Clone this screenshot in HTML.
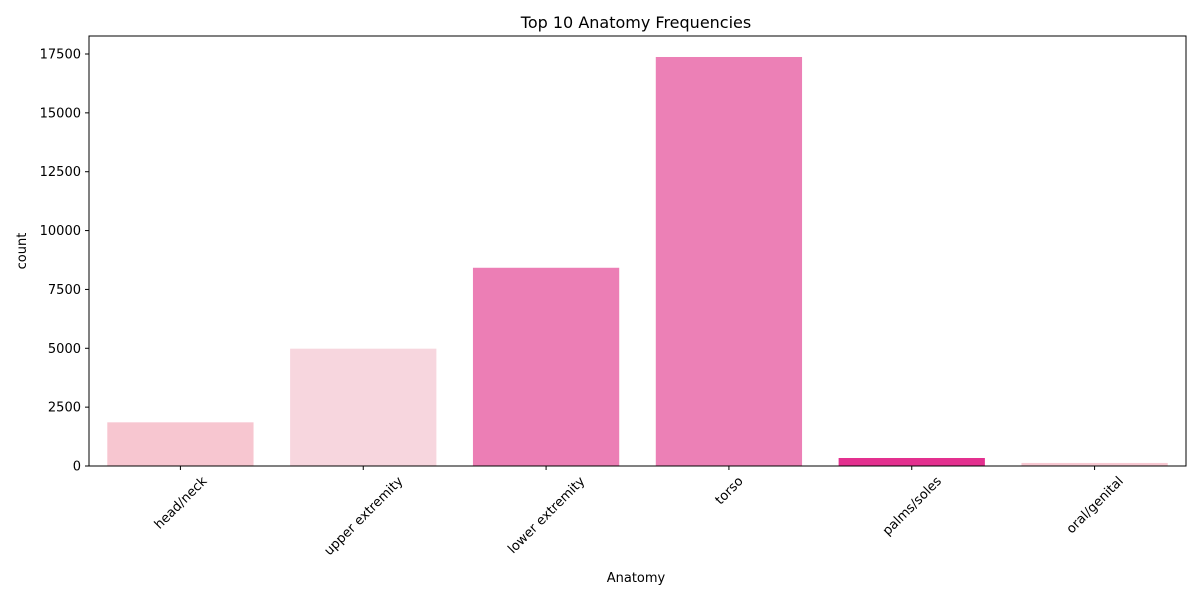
<!DOCTYPE html>
<html><head><meta charset="utf-8"><style>
body{margin:0;background:#fff;font-family:"Liberation Sans","DejaVu Sans",sans-serif;}
svg text{font-family:"DejaVu Sans","Liberation Sans",sans-serif;fill:#000;}
</style></head><body>
<svg id="chart" width="1200" height="600" xmlns="http://www.w3.org/2000/svg">
<text x="636" y="28" font-size="16" text-anchor="middle">Top 10 Anatomy Frequencies</text>
<g id="bars"></g><g id="yaxis"></g><g id="xaxis"></g>
<rect x="89" y="36" width="1097" height="430" fill="none" stroke="#000" stroke-width="1"/>
<text x="636" y="582" font-size="13" text-anchor="middle">Anatomy</text>
<text transform="translate(26,251) rotate(-90)" font-size="13" text-anchor="middle">count</text>
</svg>
<script>
const categories=["head/neck","upper extremity","lower extremity","torso","palms/soles","oral/genital"];
const counts=[1855,4983,8420,17373,340,130];
const barColors=["#f7c6d0","#f7d6de","#ec7eb5","#ec80b6","#e3308f","#f8c8d2"];
const yTicks=[0,2500,5000,7500,10000,12500,15000,17500];
const NS="http://www.w3.org/2000/svg";
const L=89,R=1186,B=466,T=54;
const y=v=>B-(v/17500)*(B-T);
const band=(R-L)/categories.length;
const xc=i=>L+band*(i+0.5);
const bars=document.getElementById('bars'),ya=document.getElementById('yaxis'),xa=document.getElementById('xaxis');
function mk(tag,attrs,p){const e=document.createElementNS(NS,tag);for(const k in attrs)e.setAttribute(k,attrs[k]);p.appendChild(e);return e;}
categories.forEach((c,i)=>{
  const w=band*0.8;
  const r=mk('rect',{x:xc(i)-w/2,y:y(counts[i]),width:w,height:B-y(counts[i]),fill:barColors[i]},bars);
  
  
  mk('line',{x1:xc(i),x2:xc(i),y1:B,y2:B+4,stroke:'#000'},xa);
  const t=mk('text',{x:0,y:4.5,'font-size':13,'text-anchor':'middle'},xa);
  t.textContent=c;
  
  
  const len=t.getComputedTextLength();
  const half=(len+13)*0.7071/2;
  t.setAttribute('transform',`translate(${xc(i)},${B+8+half}) rotate(-45)`);
});
yTicks.forEach(v=>{
  mk('line',{x1:L-4,x2:L,y1:y(v),y2:y(v),stroke:'#000'},ya);
  const t=mk('text',{x:L-8,y:y(v)+4.5,'font-size':13,'text-anchor':'end'},ya);
  t.textContent=v;
  
  
});
</script>
</body></html>
